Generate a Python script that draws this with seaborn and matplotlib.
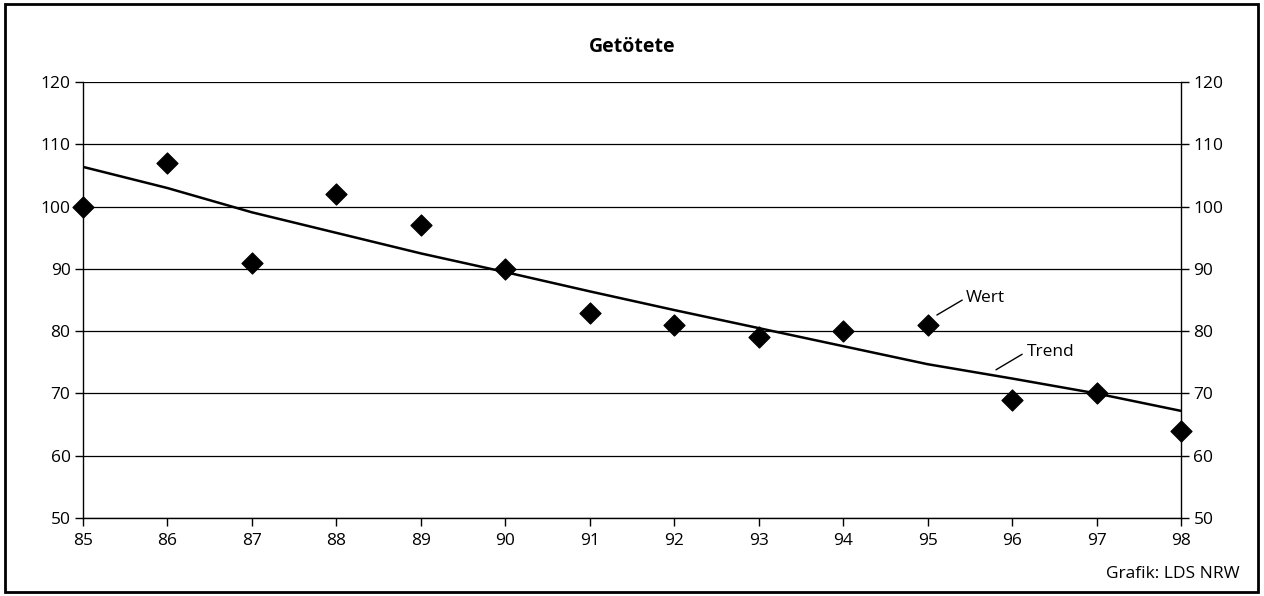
import pandas as pd
import numpy as np
import matplotlib.pyplot as plt
import seaborn as sns
from matplotlib.patches import Rectangle

# Daten
jahre = [85, 86, 87, 88, 89, 90, 91, 92, 93, 94, 95, 96, 97, 98]
wert = [100, 107, 91, 102, 97, 90, 83, 81, 79, 80, 81, 69, 70, 64]
trend = [106.4, 103.0, 99.1, 95.8, 92.5, 89.5, 86.4, 83.4, 80.5, 77.6, 74.7, 72.4, 70.0, 67.2]
y_ticks = [50, 60, 70, 80, 90, 100, 110, 120]

data = pd.DataFrame({"Jahr": jahre, "Wert": wert, "Trend": trend})

sns.set_style("white")
plt.rcParams['font.family'] = ['Open Sans', 'DejaVu Sans']
plt.rcParams['text.color'] = "black"

fig, ax = plt.subplots(figsize=(12.64, 5.96), dpi=100)
plt.subplots_adjust(left=0.0657, right=0.9343, bottom=0.131, top=0.862)

# Gitterlinien
for t in y_ticks:
    ax.axhline(t, color="black", linewidth=0.9, zorder=1)

sns.lineplot(data=data, x="Jahr", y="Trend", ax=ax, color="black", linewidth=1.8, zorder=2)
sns.scatterplot(data=data, x="Jahr", y="Wert", ax=ax, color="black", marker="D",
                s=115, edgecolor="black", zorder=3)
for coll in ax.collections:
    coll.set_clip_on(False)

ax.set_xlim(85, 98)
ax.set_ylim(50, 120)
ax.set_xticks(jahre)
ax.set_yticks(y_ticks)
ax.set_xlabel("")
ax.set_ylabel("")

for side in ["left", "right", "bottom"]:
    ax.spines[side].set_color("black")
    ax.spines[side].set_linewidth(1.0)
ax.spines["top"].set_visible(False)

ax.tick_params(axis="y", which="both", left=True, right=True, labelleft=True, labelright=True,
               direction="out", length=6, width=1, labelsize=12.5, pad=3, colors="black")
ax.tick_params(axis="x", bottom=True, direction="out", length=6, width=1, labelsize=12.5, pad=5,
               colors="black")

ax.set_title("Getötete", fontsize=14, fontweight="bold", pad=22, color="black")

# Beschriftungen
ax.plot([95.11, 95.41], [82.6, 85.0], color="black", linewidth=1)
ax.text(95.45, 85.3, "Wert", fontsize=12.5, va="center", ha="left", color="black")
ax.plot([95.81, 96.12], [73.8, 76.3], color="black", linewidth=1)
ax.text(96.18, 76.6, "Trend", fontsize=12.5, va="center", ha="left", color="black")

fig.text(0.981, 0.037, "Grafik: LDS NRW", fontsize=12.5, ha="right", va="center", color="black")

# Rahmen
fig.patches.append(Rectangle((0.004, 0.007), 0.991, 0.986, transform=fig.transFigure,
                             fill=False, edgecolor="black", linewidth=2))

plt.savefig("out.png", dpi=100)
